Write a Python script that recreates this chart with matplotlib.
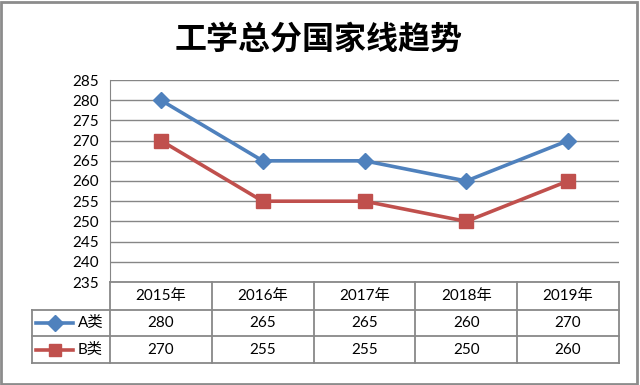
import matplotlib
matplotlib.use("Agg")
import matplotlib.pyplot as plt
from matplotlib.patches import Rectangle

years = ["2015年", "2016年", "2017年", "2018年", "2019年"]
a_vals = [280, 265, 265, 260, 270]
b_vals = [270, 255, 255, 250, 260]
series = [("A类", a_vals, "#4F81BD", "D"), ("B类", b_vals, "#C0504D", "s")]
yticks = list(range(235, 290, 5))

W, H = 640, 385
fig = plt.figure(figsize=(W / 100, H / 100), dpi=100)

# plot area in pixel coords
px0, px1 = 110, 619
py_top, py_bot = 80, 282
ax = fig.add_axes([px0 / W, 1 - py_bot / H, (px1 - px0) / W, (py_bot - py_top) / H])
ax.set_xlim(-0.5, len(years) - 0.5)
ax.set_ylim(235, 285)
ax.set_yticks(yticks)
ax.set_xticks([])
ax.yaxis.grid(True, color="#868686", lw=1.0)
ax.set_axisbelow(True)
for side in ["top", "right", "bottom"]:
    ax.spines[side].set_visible(False)
ax.spines["left"].set_color("#868686")
ax.tick_params(axis="y", length=0, pad=8, labelsize=11)
for lbl in ax.get_yticklabels():
    lbl.set_family(["Lato", "DejaVu Sans"])

for name, vals, color, mk in series:
    ms = 8.5 if mk == "D" else 10
    ax.plot(range(len(vals)), vals, color=color, lw=2.6, marker=mk, ms=ms,
            markeredgecolor=color, zorder=3)

# data table drawn in figure pixel coords
def fx(x):
    return x / W

def fy(y):
    return 1 - y / H

tc = "#888888"
col_w = (px1 - px0) / len(years)
rows_y = [282, 310, 336, 363]
legend_x = 32

def hline(x0, x1, y):
    fig.add_artist(plt.Line2D([fx(x0), fx(x1)], [fy(y), fy(y)], color=tc, lw=1.3))

def vline(x, y0, y1):
    fig.add_artist(plt.Line2D([fx(x), fx(x)], [fy(y0), fy(y1)], color=tc, lw=1.3))

hline(px0, px1, rows_y[0])
for y in rows_y[1:]:
    hline(legend_x, px1, y)
vline(legend_x, rows_y[1], rows_y[3])
for i in range(len(years) + 1):
    vline(px0 + i * col_w, rows_y[0], rows_y[3])

fam = ["Lato", "Noto Sans CJK SC"]
for i, yr in enumerate(years):
    cx = px0 + (i + 0.5) * col_w
    fig.text(fx(cx), fy((rows_y[0] + rows_y[1]) / 2), yr, ha="center", va="center",
             fontsize=11, family=fam)
    for r, (name, vals, color, mk) in enumerate(series):
        cy = (rows_y[r + 1] + rows_y[r + 2]) / 2
        fig.text(fx(cx), fy(cy), str(vals[i]), ha="center", va="center",
                 fontsize=11, family=fam)

for r, (name, vals, color, mk) in enumerate(series):
    cy = (rows_y[r + 1] + rows_y[r + 2]) / 2
    fig.add_artist(plt.Line2D([fx(36), fx(73)], [fy(cy), fy(cy)], color=color, lw=2.6))
    fig.add_artist(plt.Line2D([fx(55)], [fy(cy)], color=color, marker=mk, ms=8,
                              markeredgecolor=color))
    fig.text(fx(78), fy(cy), name, ha="left", va="center", fontsize=11, family=fam)

fig.text(fx(319), fy(40), "工学总分国家线趋势", ha="center", va="center",
         fontsize=23, fontweight="bold", family=["Noto Sans CJK SC"])

# outer frame
fig.add_artist(Rectangle((0.002, 0.003), 0.994, 0.993, transform=fig.transFigure,
                         fill=False, edgecolor="#8c8c8c", lw=2))

fig.savefig("out.png", dpi=100)
